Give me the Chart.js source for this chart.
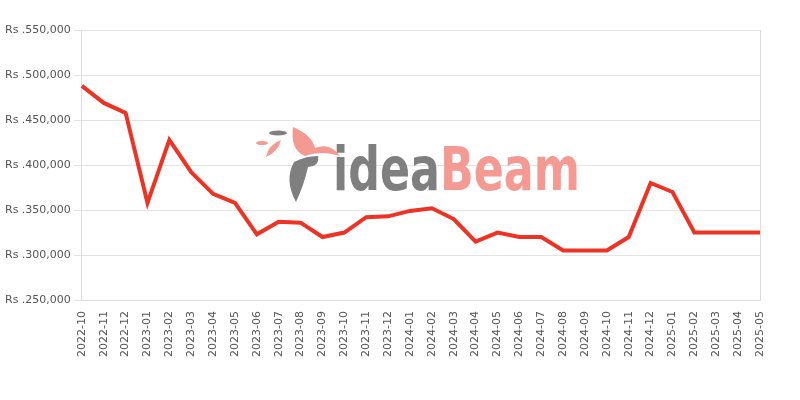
<!DOCTYPE html>
<html>
<head>
<meta charset="utf-8">
<script src="https://cdn.jsdelivr.net/npm/chart.js@4"></script>
<style>
  html, body { margin: 0; padding: 0; background: #fff; }
  #wrap { width: 800px; height: 400px; }
</style>
</head>
<body>
<div id="wrap"><canvas id="priceChart" width="800" height="400"></canvas></div>
<script>
const months = ['2022-10','2022-11','2022-12','2023-01','2023-02','2023-03','2023-04','2023-05',
  '2023-06','2023-07','2023-08','2023-09','2023-10','2023-11','2023-12','2024-01','2024-02',
  '2024-03','2024-04','2024-05','2024-06','2024-07','2024-08','2024-09','2024-10','2024-11',
  '2024-12','2025-01','2025-02','2025-03','2025-04','2025-05'];
const prices = [488000, 469000, 458000, 358000, 428000, 392000, 368000, 358000,
  323000, 337000, 336000, 320000, 325000, 342000, 343000, 349000, 352000,
  340000, 315000, 325000, 320000, 320000, 305000, 305000, 305000, 320000,
  380000, 370000, 325000, 325000, 325000, 325000];
const yTicks = [250000, 300000, 350000, 400000, 450000, 500000, 550000];

const fmtRs = v => 'Rs .' + v.toLocaleString('en-US');

// watermark logo + right border
const decoPlugin = {
  id: 'deco',
  beforeDatasetsDraw(chart) {
    const { ctx } = chart;
    ctx.save();
    // bird + feather, rough shapes
    ctx.fillStyle = '#f59a92';
    ctx.beginPath();
    ctx.moveTo(293, 127);
    ctx.quadraticCurveTo(312, 135, 315, 148);
    ctx.quadraticCurveTo(330, 142, 340, 156);
    ctx.quadraticCurveTo(322, 150, 305, 156);
    ctx.quadraticCurveTo(290, 150, 293, 127);
    ctx.fill();
    ctx.beginPath();
    ctx.moveTo(266, 157);
    ctx.quadraticCurveTo(268, 145, 281, 140);
    ctx.quadraticCurveTo(278, 152, 266, 157);
    ctx.fill();
    ctx.beginPath();
    ctx.ellipse(262, 143, 6, 2, 0, 0, Math.PI * 2);
    ctx.fill();
    ctx.fillStyle = '#7f7f7f';
    ctx.beginPath();
    ctx.ellipse(278, 133, 9, 2.5, 0, 0, Math.PI * 2);
    ctx.fill();
    ctx.beginPath();
    ctx.moveTo(296, 202);
    ctx.quadraticCurveTo(284, 180, 294, 162);
    ctx.quadraticCurveTo(305, 156, 318, 156);
    ctx.quadraticCurveTo(320, 166, 308, 167);
    ctx.quadraticCurveTo(304, 185, 296, 202);
    ctx.fill();

    ctx.font = 'bold 60px "DejaVu Sans Condensed", "DejaVu Sans"';
    ctx.textBaseline = 'alphabetic';
    const w1 = ctx.measureText('idea').width, w2 = ctx.measureText('Beam').width;
    const sx = 247 / (w1 + w2);
    ctx.translate(333, 190);
    ctx.scale(sx, 1);
    ctx.fillStyle = '#7f7f7f';
    ctx.fillText('idea', 0, 0);
    ctx.fillStyle = '#f59a92';
    ctx.fillText('Beam', w1, 0);
    ctx.restore();
  },
  afterDraw(chart) {
    const { ctx, chartArea } = chart;
    ctx.save();
    ctx.strokeStyle = '#dcdcdc'; ctx.lineWidth = 1;
    ctx.beginPath();
    ctx.moveTo(Math.round(chartArea.right) + 0.5, chartArea.top);
    ctx.lineTo(Math.round(chartArea.right) + 0.5, chartArea.bottom);
    ctx.stroke();
    ctx.restore();
  },
};

new Chart(document.getElementById('priceChart').getContext('2d'), {
  type: 'line',
  data: {
    labels: months,
    datasets: [{
      data: prices, borderColor: '#ee3324', borderWidth: 4,
      pointRadius: 0, tension: 0, fill: false,
    }],
  },
  options: {
    responsive: false, animation: false,
    layout: { padding: { top: 30, right: 40, left: 2, bottom: 40 } },
    plugins: { legend: { display: false }, tooltip: { enabled: false } },
    scales: {
      x: {
        grid: { display: false },
        border: { color: '#dcdcdc' },
        ticks: { color: '#555', font: { family: 'DejaVu Sans', size: 11 }, maxRotation: 90, minRotation: 90, autoSkip: false },
      },
      y: {
        min: 250000, max: 550000,
        afterBuildTicks: ax => { ax.ticks = yTicks.map(v => ({ value: v })); },
        grid: { color: '#e3e3e3' },
        border: { color: '#dcdcdc' },
        ticks: { color: '#555', font: { family: 'DejaVu Sans', size: 11 }, callback: v => fmtRs(v) },
      },
    },
  },
  plugins: [decoPlugin],
});
</script>
</body>
</html>
